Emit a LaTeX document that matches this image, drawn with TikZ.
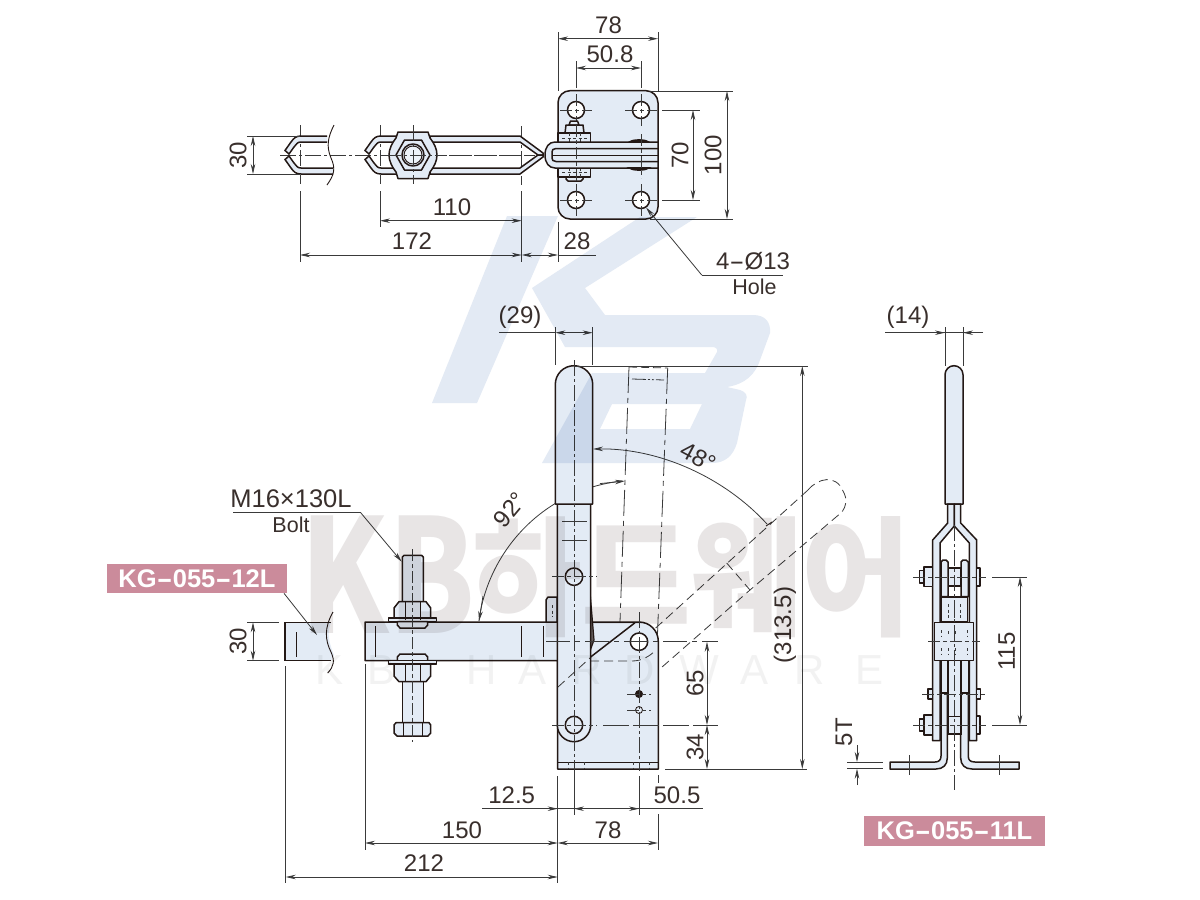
\documentclass[tikz,border=0pt]{standalone}
\usepackage{fontspec}
\usepackage{graphicx}
\usetikzlibrary{arrows.meta}
\setmainfont{Liberation Sans}
\newfontfamily\cjkwm{Noto Sans CJK KR}
\definecolor{ink}{HTML}{231815}
\definecolor{dimc}{HTML}{3A3A3A}
\definecolor{partc}{HTML}{E3EBF5}
\definecolor{logoc}{HTML}{E3EAF4}
\definecolor{wmc}{HTML}{E8E5E5}
\definecolor{wmd}{HTML}{F2F2F2}
\definecolor{tagc}{HTML}{CB8B9B}
\newcommand{\lhy}{\scalebox{1.9}[1]{-}}
\tikzset{
  part/.style={draw=ink,line width=1.5pt,fill=partc,line join=round},
  edge/.style={draw=ink,line width=1.5pt},
  thinp/.style={draw=ink,line width=0.9pt},
  dimline/.style={draw=dimc,line width=0.8pt},
  extl/.style={draw=dimc,line width=0.8pt},
  arrow2/.style={draw=dimc,line width=0.8pt,{Stealth[length=10pt,width=4.5pt]}-{Stealth[length=10pt,width=4.5pt]}},
  arrowe/.style={draw=dimc,line width=0.8pt,-{Stealth[length=10pt,width=4.5pt]}},
  cl/.style={draw=dimc,line width=0.8pt,dash pattern=on 16pt off 3pt on 3pt off 3pt},
  cross/.style={draw=dimc,line width=0.8pt,dash pattern=on 12pt off 3pt on 4pt off 3pt},
  hid/.style={draw=dimc,line width=0.8pt,dash pattern=on 9pt off 5pt},
  hidd/.style={draw=dimc,line width=0.7pt,dash pattern=on 3pt off 2.5pt},
  ghost/.style={draw=dimc,line width=0.8pt,dash pattern=on 26pt off 5pt on 5pt off 5pt},
  txt/.style={text=ink!90,inner sep=0pt,font=\fontsize{24}{24}\selectfont},
  txts/.style={text=ink!90,inner sep=0pt,font=\fontsize{21.5}{21.5}\selectfont},
  tag/.style={fill=tagc,text=white,inner sep=0pt,font=\bfseries\fontsize{25.5}{25.5}\selectfont},
}
\begin{document}
\begin{tikzpicture}[x=1pt,y=-1pt]
\useasboundingbox (0,0) rectangle (1200,900);
\fill[white] (0,0) rectangle (1200,900);

% ---------- TOP VIEW ----------
\draw[cl] (280,155) -- (535,155);
\draw[cl] (300,125) -- (300,184);
\draw[cl] (380,125) -- (380,184);
\draw[cl] (413,125) -- (413,184);
\draw[cl] (521.7,126) -- (521.7,185);
% left stub
\path[fill=partc] (327,136)--(301,136)--(291,142)--(285,150.5)--(289,154)--(294,147)--(297,143.5)--(301,142)--(327,142)--cycle;
\path[fill=partc] (333,174)--(301,174)--(291,168)--(285,159.5)--(289,156)--(294,163)--(297,166.5)--(301,168)--(333,168)--cycle;
\draw[edge] (327,136)--(301,136) .. controls (296,136) and (294,138) .. (291,142)--(285,150.5)--(289,154)--(294,147)--(297,143.5) .. controls (298,142.5) and (299,142) .. (301,142)--(327,142);
\draw[edge] (333,174)--(301,174) .. controls (296,174) and (294,172) .. (291,168)--(285,159.5)--(289,156)--(294,163)--(297,166.5) .. controls (298,167.5) and (299,168) .. (301,168)--(333,168);
\draw[thinp] (334,125) .. controls (328,137) and (326,146) .. (331,158) .. controls (336,169) and (334,175) .. (327,185);
% second piece
\path[fill=partc] (397,136)--(381,136)--(371,142)--(365,150.5)--(369,154)--(374,147)--(377,143.5)--(381,142)--(397,142)--cycle;
\path[fill=partc] (397,174)--(381,174)--(371,168)--(365,159.5)--(369,156)--(374,163)--(377,166.5)--(381,168)--(397,168)--cycle;
\draw[edge] (397,136)--(381,136) .. controls (376,136) and (374,138) .. (371,142)--(365,150.5)--(369,154)--(374,147)--(377,143.5) .. controls (378,142.5) and (379,142) .. (381,142)--(397,142);
\draw[edge] (397,174)--(381,174) .. controls (376,174) and (374,172) .. (371,168)--(365,159.5)--(369,156)--(374,163)--(377,166.5) .. controls (378,167.5) and (379,168) .. (381,168)--(397,168);
% strips to the right
\draw[part] (430,136)--(520,136)--(543,153)--(543,155)--(538,155)--(520,142)--(430,142)--cycle;
\draw[part] (430,174)--(520,174)--(543,157)--(543,155)--(538,155)--(520,168)--(430,168)--cycle;
\draw[cl] (425,155) -- (535,155);
% hex flange and nut
\draw[part] (398,132)--(428,132)--(430,138) .. controls (434,143) and (437,149) .. (437,155) .. controls (437,161) and (434,167) .. (430,172)--(428,178.5)--(398,178.5)--(396,172) .. controls (392,167) and (389,161) .. (389,155) .. controls (389,149) and (392,143) .. (396,138)--cycle;
\draw[part] (396,155)--(404.5,140)--(421.5,140)--(430,155)--(421.5,170)--(404.5,170)--cycle;
\draw[part] (413,155) circle (11);
\draw[thinp,fill=partc!60!white] (413,155) circle (9);
\draw[cl] (385,155) -- (442,155);
\draw[cl] (413,125) -- (413,184);
% base plate
\draw[part] (570,90.7) -- (646,90.7) arc (270:360:12) -- (658,207) arc (0:90:12) -- (570,219) arc (90:180:12) -- (558,102.7) arc (180:270:12) -- cycle;
\node[circle,draw=ink,line width=1.5pt,fill=white,minimum size=17pt,inner sep=0pt] (h1) at (576,110) {};
\node[circle,draw=ink,line width=1.5pt,fill=white,minimum size=17pt,inner sep=0pt] (h2) at (641,110) {};
\node[circle,draw=ink,line width=1.5pt,fill=white,minimum size=17pt,inner sep=0pt] (h3) at (576,200) {};
\node[circle,draw=ink,line width=1.5pt,fill=white,minimum size=17pt,inner sep=0pt] (h4) at (641,200) {};
\foreach \c/\d in {576/110,641/110,576/200,641/200}{
  \draw[cross] (\c-16,\d) -- (\c+16,\d);
  \draw[cross] (\c,\d-16) -- (\c,\d+16);
}
% bolt and block
\draw[part] (569,125)--(570.5,121)--(577.5,121)--(579,125)--cycle;
\draw[part] (565,133)--(566,125)--(583,125)--(584,133)--cycle;
\draw[part] (566,177)--(583,177)--(583,179)--(581,181)--(568,181)--(566,179)--cycle;
\draw[part] (558,133) rectangle (590.7,177);
\draw[hidd] (562,138) -- (587,138) (562,172) -- (587,172);
\draw[hidd] (569,133)--(569,142) (569,168)--(569,177) (580,133)--(580,142) (580,168)--(580,177);
% handle eye
\draw[part] (658,142) -- (555,142) .. controls (549,142) and (545,147) .. (545,155) .. controls (545,163) and (549,168) .. (555,168) -- (658,168) -- cycle;
\draw[edge] (658,148.5) -- (556,148.5) .. controls (553,148.5) and (552,150) .. (552,152) -- (552,158) .. controls (552,160) and (553,161.5) .. (556,161.5) -- (658,161.5);
\draw[thinp] (552,155) -- (658,155);
\draw[cross] (576,125) -- (576,186);
\draw[line width=1.9pt,draw=ink,fill=ink!60] (630,142) .. controls (633,139.5) and (645,139.5) .. (648,142) -- cycle;
\draw[line width=1.9pt,draw=ink,fill=ink!60] (630,168) .. controls (633,170.5) and (645,170.5) .. (648,168) -- cycle;
\draw[cross] (641,134) -- (641,178);

% top dims
\draw[extl] (558,32) -- (558,91) (658,32) -- (658,91);
\draw[arrow2] (558,38.7) -- (658,38.7);
\node[txt] (t78a) at (608.5,25) {78};
\draw[extl] (576,61) -- (576,88) (641,61) -- (641,88);
\draw[arrow2] (576,68) -- (641,68);
\node[txt] (t508) at (610,54) {50.8};
\draw[extl] (650,91) -- (733,91) (650,219) -- (733,219);
\draw[arrow2] (727,91) -- (727,219);
\node[txt,rotate=90] (t100) at (713,155) {100};
\draw[extl] (662,110) -- (700,110) (662,200) -- (700,200);
\draw[arrow2] (693,110) -- (693,200);
\node[txt,rotate=90] (t70) at (680,155) {70};
\draw[extl] (247,136) -- (300,136) (247,174) -- (300,174);
\draw[arrow2] (253,136) -- (253,174);
\node[txt,rotate=90] (t30a) at (238,155) {30};
\draw[extl] (380,191) -- (380,227) (300,191) -- (300,262) (521.7,191) -- (521.7,262) (558,222) -- (558,262);
\draw[arrow2] (380,220.7) -- (521.7,220.7);
\node[txt] (t110) at (452,207) {110};
\draw[arrow2] (300,255) -- (521.7,255);
\node[txt] (t172) at (412,241) {172};
\draw[arrow2] (521.7,255) -- (558,255);
\draw[dimline] (558,255) -- (596,255);
\node[txt] (t28) at (577,241) {28};
\coordinate (lead1) at (701.7,275);
\draw[arrowe,{Stealth[length=10pt,width=4.5pt]}-] (646,207.5) -- (lead1);
\draw[dimline] (lead1) -- (783,275);
\node[txt] (t413) at (753,261) {4\lhy Ø13};
\node[txts] (thole) at (754.5,287) {Hole};

% ---------- FRONT VIEW ----------
\draw[ghost] (629,367) -- (620,622);
\draw[ghost] (667.7,368) -- (657.5,634);
\draw[hid,dash pattern=on 8pt off 4pt] (629,367) -- (667.7,368);
\draw[dimline,dash pattern=on 14pt off 2pt on 2pt off 2pt on 2pt off 2pt] (632,379) -- (664,380);
\draw[dimline] (479,621) .. controls (487,555) and (540,490) .. (622,481);
\draw[arrowe] (600,483.6) -- (625,481);
\draw[arrowe] (483,596) -- (479,621);
\draw[hid] (655.7,628) -- (808,490);
\draw[hid] (808,490) .. controls (818,478) and (836,474) .. (843,491) .. controls (848,500) and (846,506) .. (842,512) -- (750,590) -- (657.5,671);
\draw[hid] (726.7,563) -- (750,590);
\draw[arrowe,{Stealth[length=10pt,width=4.5pt]}-] (593,449) .. controls (660,448) and (725,478) .. (767,524);
\draw[thinp] (766,526) -- (772,522);

% cut piece
\path[fill=partc] (285,622.3) -- (331,622.3) .. controls (326,634) and (330,645) .. (334,655) -- (331,660.7) -- (285,660.7) -- cycle;
\draw[edge] (331,622.3) -- (285,622.3) -- (285,660.7) -- (331,660.7);
\draw[thinp] (333,612) .. controls (324,628) and (325,640) .. (331,652) .. controls (335,661) and (334,666) .. (327.7,673);
\draw[thinp] (296.7,632) -- (296.7,656.7);
\draw[extl] (247,622.3) -- (279,622.3) (247,660.7) -- (279,660.7);
\draw[arrow2] (253,622.3) -- (253,660.7);
\node[txt,rotate=90] (t30b) at (238,641.5) {30};

% body and arm
\draw[part] (365,622) -- (639,622) arc (270:360:19.3) -- (658.3,769) -- (557.7,769) -- (557.7,660.7) -- (365,660.7) -- cycle;
\draw[edge] (557.7,762.3) -- (658.3,762.3);
\draw[hidd] (568,762)--(568,769) (584,762)--(584,769) (633,762)--(633,769) (649,762)--(649,769);
\draw[edge] (589.3,658) -- (635,622.7);
\draw[thinp] (375,626) -- (375,656.7) (521,626) -- (521,656.7) (543,626) -- (543,656.7);
\draw[hid] (590,661) -- (632,661) .. controls (642,661) and (650,656) .. (656,650);
\node[circle,draw=ink,line width=1.5pt,fill=white,minimum size=17.4pt,inner sep=0pt] (eye) at (639,641.7) {};
\node[circle,draw=ink,line width=1pt,fill=ink,minimum size=7pt,inner sep=0pt] (d1) at (639,694) {};
\node[circle,draw=ink,line width=0.8pt,fill=none,minimum size=7pt,inner sep=0pt] (d2) at (639,710) {};
\draw[cross] (627,694) -- (651,694) (627,710) -- (651,710);
\draw[cl] (639,612) -- (639,771);
% bolt
\draw[part] (402.3,602) -- (402.3,557) -- (404,555.3) -- (421.6,555.3) -- (423.3,557) -- (423.3,602);
\draw[part] (394,608) -- (399,601.7) -- (426,601.7) -- (430.7,608) -- (430.7,620) -- (394,620) -- cycle;
\draw[part] (388.3,618) -- (436.7,618) -- (436.7,621.7) -- (388.3,621.7) -- cycle;
\draw[part] (397.3,621.7) -- (427.7,621.7) -- (427.7,625) -- (425,628) -- (400,628) -- (397.3,625) -- cycle;
\draw[part] (397.3,661) -- (427.7,661) -- (427.7,657) -- (425,654) -- (400,654) -- (397.3,657) -- cycle;
\draw[part] (388.3,660.7) -- (436.7,660.7) -- (436.7,664) -- (388.3,664) -- cycle;
\draw[part] (402.3,681.7) -- (402.3,722.7) -- (423.3,722.7) -- (423.3,681.7) -- cycle;
\draw[part] (394,664) -- (430.7,664) -- (430.7,676) -- (426,681.7) -- (399,681.7) -- (394,676) -- cycle;
\draw[part] (396,722.7) -- (429,722.7) -- (430.7,725) -- (430.7,733) -- (428,736) -- (397,736) -- (394,733) -- (394,725) -- cycle;
\draw[thinp] (405,602)--(405,620) (420,602)--(420,620) (405,664)--(405,681) (420,664)--(420,681) (403,723)--(403,736) (422,723)--(422,736);
\draw[cross] (412.7,549) -- (412.7,742);
% nub, wedge
\draw[part] (546,600) -- (548,597) -- (557,597) -- (557,622) -- (546,622) -- cycle;
\draw[hidd] (552,605) -- (552,617);
\draw[line width=1.2pt,draw=ink,fill=ink!70] (589,580) -- (594,640) -- (590,651) -- cycle;
% link and grip
\draw[part] (557.3,504) -- (557.3,725) arc (180:0:16.7) -- (590.7,504) -- cycle;
\draw[part] (555.3,504) -- (555.3,384.4) arc (180:360:18.7) -- (592.7,504) -- cycle;
\node[circle,draw=ink,line width=1.5pt,fill=partc,minimum size=17.4pt,inner sep=0pt] (p1) at (574,576.7) {};
\node[circle,draw=ink,line width=1.5pt,fill=partc,minimum size=17.4pt,inner sep=0pt] (p2) at (574,725) {};
\draw[dimline] (562,521.7) -- (587,521.7) (562,540) -- (587,540);
\draw[cl] (574,360) -- (574,776);
\draw[cross] (552,576.7) -- (597,576.7);
\draw[cross] (552,725) -- (597,725);
\draw[hid] (558,687) -- (590,658);
\draw[cross,dash pattern=on 24pt off 5pt on 5pt off 5pt] (546,641.7) -- (718,641.7);
\draw[dimline,dash pattern=on 26pt off 4pt] (603,725) -- (718,725);
\draw[dimline] (665,769) -- (807,769) (574,366) -- (808,366);
% dims front
\draw[extl] (555.3,327) -- (555.3,365) (592.7,327) -- (592.7,365);
\draw[dimline] (499,332.7) -- (555.3,332.7);
\draw[arrow2] (555.3,332.7) -- (592.7,332.7);
\node[txt] (t29) at (520,317) {(29)};
\draw[arrow2] (802.3,366) -- (802.3,769);
\node[txt,rotate=90] (t313) at (785,625) {(313.5)};
\draw[arrow2] (707,641.7) -- (707,725);
\draw[arrow2] (707,725) -- (707,769);
\node[txt,rotate=90] (t65) at (695,683) {65};
\node[txt,rotate=90] (t34) at (695,747) {34};
\draw[extl] (557.7,776) -- (557.7,883) (365,664) -- (365,850) (285.7,666) -- (285.7,883);
\draw[extl] (574,776) -- (574,815) (639,776) -- (639,815) (658,775) -- (658,783) (658,814) -- (658,850);
\draw[dimline] (482,808.7) -- (703,808.7);
\draw[arrowe] (482,808.7) -- (557.7,808.7);
\draw[arrow2] (574,808.7) -- (639,808.7);
\node[txt] (t125) at (511.7,795) {12.5};
\node[txt] (t505) at (677,795) {50.5};
\draw[arrow2] (365,843) -- (557.7,843);
\draw[arrow2] (557.7,843) -- (658,843);
\node[txt] (t150) at (462,830) {150};
\node[txt] (t78b) at (608,830) {78};
\draw[arrow2] (285.7,877) -- (557.7,877);
\node[txt] (t212) at (424,863) {212};
\node[txt,rotate=50] (t92) at (510,510) {92°};
\node[txt,rotate=-28] (t48) at (698,457) {48°};
% bolt leader
\coordinate (m1) at (360.7,512.7);
\draw[dimline] (233,512.7) -- (m1);
\draw[arrowe] (m1) -- (401.7,561.7);
\node[txt,font=\fontsize{25.5}{25.5}\selectfont] (tm16) at (291,499) {M16×130L};
\node[txts] (tbolt) at (291,525) {Bolt};
% tags
\node[tag,minimum width=180.6pt,minimum height=29.3pt] (tag12) at (197,578.6) {KG\lhy 055\lhy 12L};
\draw[arrowe] (284,593.3) -- (317,635);
\node[tag,minimum width=181pt,minimum height=30pt] (tag11) at (954.5,831) {KG\lhy 055\lhy 11L};

% ---------- SIDE VIEW ----------
\draw[part] (945,504) -- (945,374.7) arc (180:360:9) -- (963,504) -- cycle;
\draw[extl] (945,327) -- (945,366) (963,327) -- (963,366);
\draw[dimline] (885,332.7) -- (983,332.7);
\draw[arrowe] (925,332.7) -- (945,332.7);
\draw[arrowe] (983,332.7) -- (963,332.7);
\node[txt] (t14) at (908,317) {(14)};
% side strips
\draw[part] (947.7,504) -- (947.7,523) -- (932.7,540) -- (932.7,740.7) -- (940,740.7) -- (940,543) -- (954.3,526) -- (954.3,504) -- cycle;
\draw[part] (960.7,504) -- (960.7,523) -- (976.7,540) -- (976.7,740.7) -- (969.3,740.7) -- (969.3,543) -- (954.3,526) -- (954.3,504) -- cycle;
% L feet
\draw[part] (890,762) -- (935,762) .. controls (939,762) and (941,760) .. (941,756) -- (941,693) -- (947.3,693) -- (947.3,758) .. controls (947.3,765) and (943,769) .. (936,769) -- (890,769) -- cycle;
\draw[part] (1019,762) -- (975,762) .. controls (970,762) and (968.3,760) .. (968.3,756) -- (968.3,693) -- (960.7,693) -- (960.7,758) .. controls (960.7,765) and (965,769) .. (972,769) -- (1019,769) -- cycle;
\draw[dimline] (909,755) -- (909,775) (999,755) -- (999,775);
\draw[draw=ink,line width=1.2pt,fill=partc] (948,660) rectangle (961,734);
\draw[thinp] (948,716) -- (961,716);
\draw[part] (941,660) rectangle (948,693);
\draw[part] (961,660) rectangle (968.3,693);
% links
\draw[part] (941.7,597) rectangle (967.3,622);
\draw[part] (948,568) rectangle (961,586);
\draw[part] (941,562) -- (943,560) -- (946,560) -- (948,562) -- (948,596.7) -- (941,596.7) -- cycle;
\draw[part] (961,562) -- (963,560) -- (966,560) -- (968.3,562) -- (968.3,596.7) -- (961,596.7) -- cycle;
\draw[line width=2.4pt,draw=ink] (941.7,597) -- (967.3,597);
\draw[hidd] (948,604) -- (948,620) (954.3,604) -- (954.3,620) (960.7,604) -- (960.7,620);
% centre block
\draw[part] (934.7,622.3) rectangle (973.3,660.7);
\draw[hidd] (941,630)--(941,636) (948,631)--(948,636) (955,631)--(955,636) (967,630)--(967,636) (941,648)--(941,654) (948,648)--(948,654) (955,648)--(955,654) (967,648)--(967,654);
\draw[cross] (928,641.5) -- (980,641.5);
% bolts
\draw[part] (924,567) rectangle (932.7,586.7);
\draw[part] (919.3,570.7) rectangle (924,583);
\draw[part] (976.7,568) rectangle (980,586);
\draw[part] (924,715) rectangle (932.7,735);
\draw[part] (919.3,719) rectangle (924,731);
\draw[part] (976.7,716) rectangle (980,734);
\draw[part] (928,689) rectangle (932.7,699);
\draw[part] (976.7,689) rectangle (980.7,699);
\draw[thinp] (941,693) -- (948,693) (961,693) -- (968.3,693);
\draw[cross] (913,577) -- (986,577);
\draw[cross] (913,725) -- (986,725);
\draw[cross] (922,694) -- (987,694);
\draw[cl] (954.3,525) -- (954.3,790);
\draw[extl] (992,577) -- (1027,577) (992,725) -- (1027,725);
\draw[arrow2] (1020,577) -- (1020,725);
\node[txt,rotate=90] (t115) at (1006.7,651.7) {115};
\draw[extl] (847,762) -- (883,762) (847,768.7) -- (883,768.7);
\draw[arrowe] (857,745) -- (857,762);
\draw[arrowe] (857,785) -- (857,768.7);
\node[txt,rotate=90] (t5t) at (844,732) {5T};

% ---------- WATERMARKS ----------
\begin{scope}[blend mode=multiply]
\fill[logoc] (507,216) -- (558,216) -- (477,403) -- (432,403) -- cycle;
\fill[logoc,even odd rule] (532,288) -- (640,217) -- (697,217) -- (585,288) -- (605,315) -- (753,315) .. controls (765,315) and (771,322) .. (770,333) -- (760,360) .. controls (755,375) and (745,384) .. (727,387) -- (740,390) .. controls (746,392) and (748,396) .. (746,400) -- (737,443) .. controls (733,456) and (725,463) .. (712,463) -- (542,463) -- (592,373) -- (705,373) -- (717,352) .. controls (718,349) and (716,347) .. (712,347) -- (565,347) -- cycle
 (612,404) -- (702,404) -- (690,429) -- (600,429) -- cycle;
\node[text=wmc,inner sep=0pt,font=\cjkwm\bfseries\fontsize{158}{158}\selectfont,anchor=base west,xscale=0.79] (wm1) at (300,633) {KB};
\node[text=wmc,inner sep=0pt,font=\cjkwm\bfseries\fontsize{129}{129}\selectfont,anchor=base west,xscale=0.925] (wm2) at (472,625) {하드웨어};
\foreach \n/\c/\l in {k/330/K,b/382/B,h/482/H,a/533/A,r/587/R,d/640/D,w/699/W,aa/754/A,rr/810/R,e/869/E}{
  \node[text=wmd,inner sep=0pt,font=\fontsize{42}{42}\selectfont] (wm\n) at (\c,670) {\l};
}
\end{scope}
\end{tikzpicture}
\end{document}
